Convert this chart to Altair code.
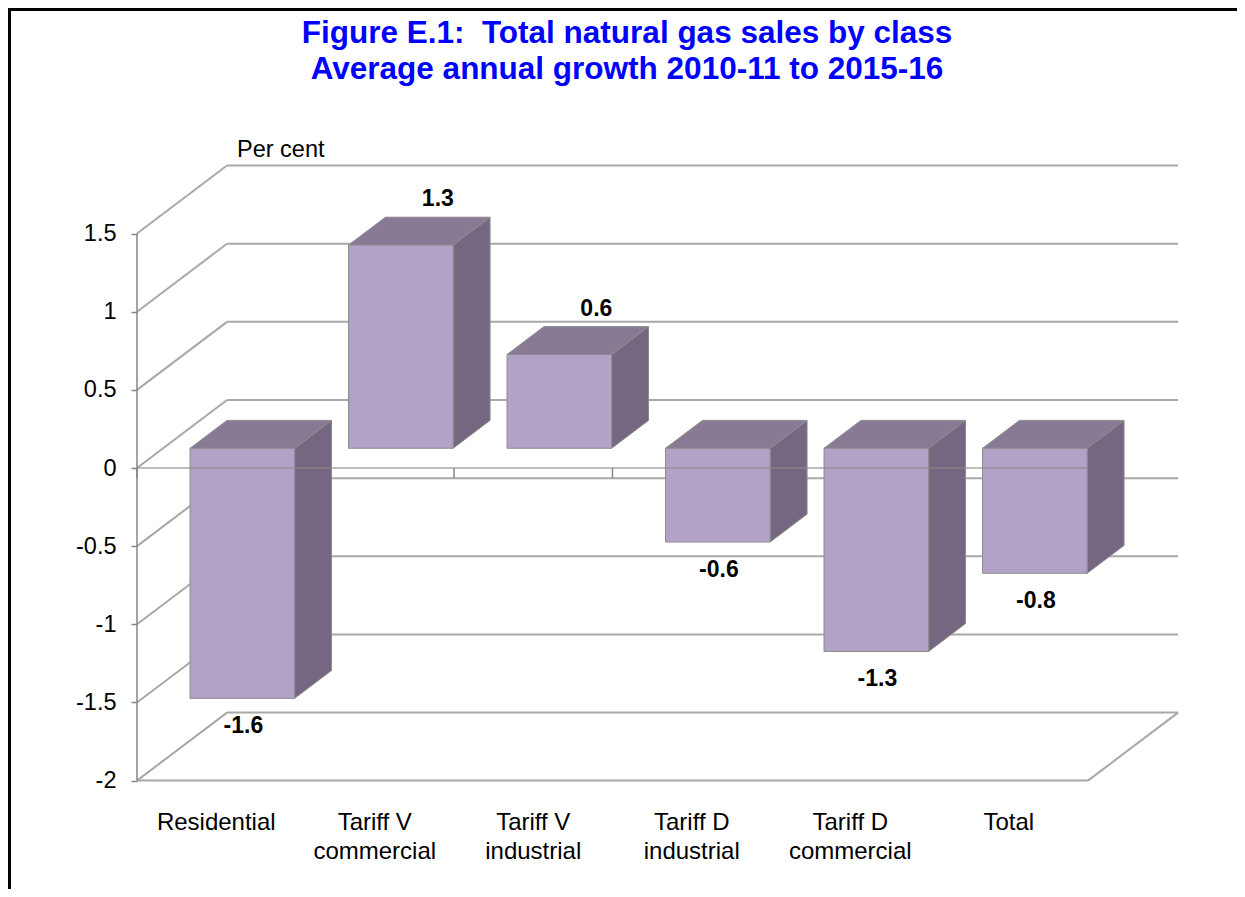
import altair as alt
import pandas as pd

# ---------------- data ----------------
categories = ["Residential", "Tariff V\ncommercial", "Tariff V\nindustrial",
              "Tariff D\nindustrial", "Tariff D\ncommercial", "Total"]
values = [-1.6, 1.3, 0.6, -0.6, -1.3, -0.8]
tick_values = [-2, -1.5, -1, -0.5, 0, 0.5, 1, 1.5]
title_lines = ["Figure E.1:\u00a0 Total natural gas sales by class",
               "Average annual growth 2010-11 to 2015-16"]
y_title = "Per cent"

# ---------------- layout ----------------
FONT = "Liberation Sans"
W, H = 1229, 881
AX_X, AX_Y = 129, 460          # canvas px of (category 0, value 0) on the front plane
PX_CAT, PX_VAL = 158.5, 156.3  # px per category / per percentage point
DX, DY = 90 / PX_CAT, 68 / PX_VAL   # full depth of the 3-D box in data units
F0, F1 = 0.29, 0.70            # bar front / back depth fractions
BL, BR = 0.17, 0.83            # bar left / right inside category band
FRONT, TOP, SIDE = "#B3A2C7", "#887A94", "#756781"
EDGE = "#8c8c8c"
GRID = "#a8a8a8"
n = len(categories)

xs = alt.Scale(domain=[-AX_X / PX_CAT, (W - AX_X) / PX_CAT], nice=False, zero=False)
ys = alt.Scale(domain=[-(H - AX_Y) / PX_VAL, AX_Y / PX_VAL], nice=False, zero=False)
yaxis = alt.Axis(values=tick_values, offset=-AX_X, domain=False, grid=False,
                 tickSize=6, tickColor="#868686", tickWidth=1.5,
                 labelFontSize=23.5, labelFont=FONT, labelColor="black",
                 labelPadding=15, labelExpr="toString(datum.value)", title=None)


def X(f):
    return alt.X(f, type="quantitative", scale=xs, axis=None)


def Y(f):
    return alt.Y(f, type="quantitative", scale=ys, axis=yaxis)


# ---------------- geometry tables ----------------
walls = []
for v in tick_values:
    walls.append(dict(x=DX, x2=n + DX, y=v + DY, y2=v + DY))      # back wall grid
    walls.append(dict(x=0, x2=DX, y=v, y2=v + DY))                # left wall diagonals
walls.append(dict(x=0, x2=n, y=tick_values[0], y2=tick_values[0]))            # floor front
walls.append(dict(x=n, x2=n + DX, y=tick_values[0], y2=tick_values[0] + DY))  # floor right
walls = pd.DataFrame(walls)

axis_line = pd.DataFrame([dict(x=0, x2=0, y=tick_values[0], y2=tick_values[-1])])
cat_ticks = pd.DataFrame([dict(x=i, y=0, y2=-10 / PX_VAL) for i in range(n + 1)])
zero_line = pd.DataFrame([dict(x=0, x2=n, y=0, y2=0)])

fronts, sides, tops, labels, cats = [], [], [], [], []
for i, (c, v) in enumerate(zip(categories, values)):
    L0, R0 = i + BL + F0 * DX, i + BR + F0 * DX
    L1, R1 = i + BL + F1 * DX, i + BR + F1 * DX
    fronts.append(dict(x=L0, x2=R0, y=F0 * DY, y2=v + F0 * DY))
    sides.append(dict(id=i, x=R0, y=v + F0 * DY, y2=F0 * DY))
    sides.append(dict(id=i, x=R1, y=v + F1 * DY, y2=F1 * DY))
    T = max(v, 0)
    tops.append(dict(id=i, y=T + F0 * DY, x=L0, x2=R0))
    tops.append(dict(id=i, y=T + F1 * DY, x=L1, x2=R1))
    cx = i + 0.5 + F0 * DX
    if v >= 0:
        labels.append(dict(x=cx + 37 / PX_CAT, y=v + F0 * DY + 46 / PX_VAL, t=f"{v:.1f}"))
    else:
        labels.append(dict(x=cx + 1 / PX_CAT, y=v + F0 * DY - 28 / PX_VAL, t=f"{v:.1f}"))
    cats.append(dict(x=i + 0.5, y=tick_values[0], t=c))

fronts, sides, tops = pd.DataFrame(fronts), pd.DataFrame(sides), pd.DataFrame(tops)
labels, cats = pd.DataFrame(labels), pd.DataFrame(cats)

# ---------------- layers ----------------
wall_layer = alt.Chart(walls).mark_rule(color=GRID, strokeWidth=2).encode(
    x=X("x"), x2="x2", y=Y("y"), y2="y2")
axis_layer = alt.Chart(axis_line).mark_rule(color="#868686", strokeWidth=1.5).encode(
    x=X("x"), x2="x2", y=Y("y"), y2="y2")
tick_layer = alt.Chart(cat_ticks).mark_rule(color="#868686", strokeWidth=1.5).encode(
    x=X("x"), y=Y("y"), y2="y2")
side_layer = alt.Chart(sides).mark_area(color=SIDE, stroke=EDGE, strokeWidth=1, opacity=1).encode(
    x=X("x"), y=Y("y"), y2="y2", detail="id:N")
top_layer = alt.Chart(tops).mark_area(orient="horizontal", color=TOP, stroke=EDGE,
                                       strokeWidth=1, opacity=1).encode(
    y=Y("y"), x=X("x"), x2="x2", detail="id:N")
front_layer = alt.Chart(fronts).mark_rect(color=FRONT, stroke=EDGE, strokeWidth=1).encode(
    x=X("x"), x2="x2", y=Y("y"), y2="y2")
zero_layer = alt.Chart(zero_line).mark_rule(color="#8a8a8a", strokeWidth=1.5, opacity=0.75).encode(
    x=X("x"), x2="x2", y=Y("y"), y2="y2")
label_layer = alt.Chart(labels).mark_text(font=FONT, fontSize=23, fontWeight="bold",
                                          color="black", baseline="middle").encode(
    x=X("x"), y=Y("y"), text="t:N")
cat_layer = alt.Chart(cats).mark_text(font=FONT, fontSize=24, color="black", baseline="top",
                                      lineBreak="\n", lineHeight=29, dy=30).encode(
    x=X("x"), y=Y("y"), text="t:N")

one = pd.DataFrame({"a": [0]})
title1 = alt.Chart(one).mark_text(text=title_lines[0], font=FONT, fontSize=31.5, fontWeight="bold",
                                  color="#0000FF", align="center", baseline="alphabetic").encode(
    x=alt.value(619), y=alt.value(35))
title2 = alt.Chart(one).mark_text(text=title_lines[1], font=FONT, fontSize=31.5, fontWeight="bold",
                                  color="#0000FF", align="center", baseline="alphabetic").encode(
    x=alt.value(619), y=alt.value(71))
ytitle = alt.Chart(one).mark_text(text=y_title, font=FONT, fontSize=23.5, color="black",
                                  align="left", baseline="alphabetic").encode(
    x=alt.value(229), y=alt.value(149))
frame_left = alt.Chart(one).mark_rule(color="black", strokeWidth=3).encode(
    x=alt.value(1.5), y=alt.value(0), y2=alt.value(H))
frame_top = alt.Chart(one).mark_rule(color="black", strokeWidth=3).encode(
    y=alt.value(1.5), x=alt.value(0), x2=alt.value(W))

chart = alt.layer(
    wall_layer, axis_layer, tick_layer, side_layer, top_layer, front_layer,
    zero_layer, label_layer, cat_layer, title1, title2, ytitle, frame_left, frame_top
).properties(
    width=W, height=H, padding=0, autosize=alt.AutoSizeParams(type="none"),
    background="white"
).configure_view(stroke=None)

chart.save("out.html", embed_options={"renderer": "svg", "actions": False})
